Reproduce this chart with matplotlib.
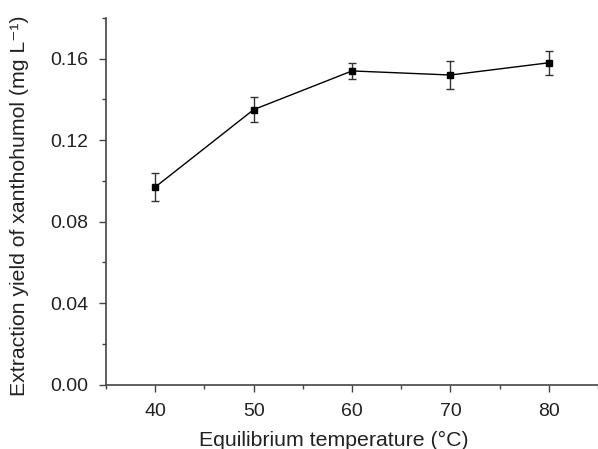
import matplotlib
matplotlib.use("Agg")
import matplotlib.pyplot as plt
from matplotlib.ticker import MultipleLocator

temps = [40, 50, 60, 70, 80]
yields = [0.097, 0.135, 0.154, 0.152, 0.158]
errors = [0.007, 0.006, 0.004, 0.007, 0.006]

plt.rcParams['font.family'] = ['Liberation Sans', 'DejaVu Sans']

fig = plt.figure(figsize=(5.98, 4.49), dpi=100)
ax = fig.add_axes([0.1773, 0.1432, 0.8227, 0.8168])

ax.errorbar(temps, yields, yerr=errors, color='black', lw=1.0, marker='s',
            markersize=5, ecolor='#333333', elinewidth=1.0, capsize=3,
            capthick=1.0, zorder=3)

ax.set_xlim(35, 85)
ax.set_ylim(0, 0.18)
ax.set_xticks([40, 50, 60, 70, 80])
ax.set_yticks([0.00, 0.04, 0.08, 0.12, 0.16])
ax.set_yticklabels(['0.00', '0.04', '0.08', '0.12', '0.16'])
ax.xaxis.set_minor_locator(MultipleLocator(5))
ax.yaxis.set_minor_locator(MultipleLocator(0.02))

for s in ['top', 'right']:
    ax.spines[s].set_visible(False)
for s in ['left', 'bottom']:
    ax.spines[s].set_color('#444444')
    ax.spines[s].set_linewidth(1.2)

ax.tick_params(which='major', direction='out', length=5, width=1, color='#444444',
               labelsize=14, labelcolor='#222222', pad=8)
ax.tick_params(which='minor', direction='out', length=3, width=1, color='#444444')

ax.set_xlabel('Equilibrium temperature (°C)', fontsize=15.3, color='#222222')
ax.set_ylabel('Extraction yield of xanthohumol (mg L⁻¹)', fontsize=15.3,
              color='#222222')
ax.xaxis.set_label_coords(0.463, -0.126)
ax.xaxis.label.set_va('top')
ax.yaxis.set_label_coords(-0.1565, 0.489)

fig.savefig('out.png', dpi=100)
